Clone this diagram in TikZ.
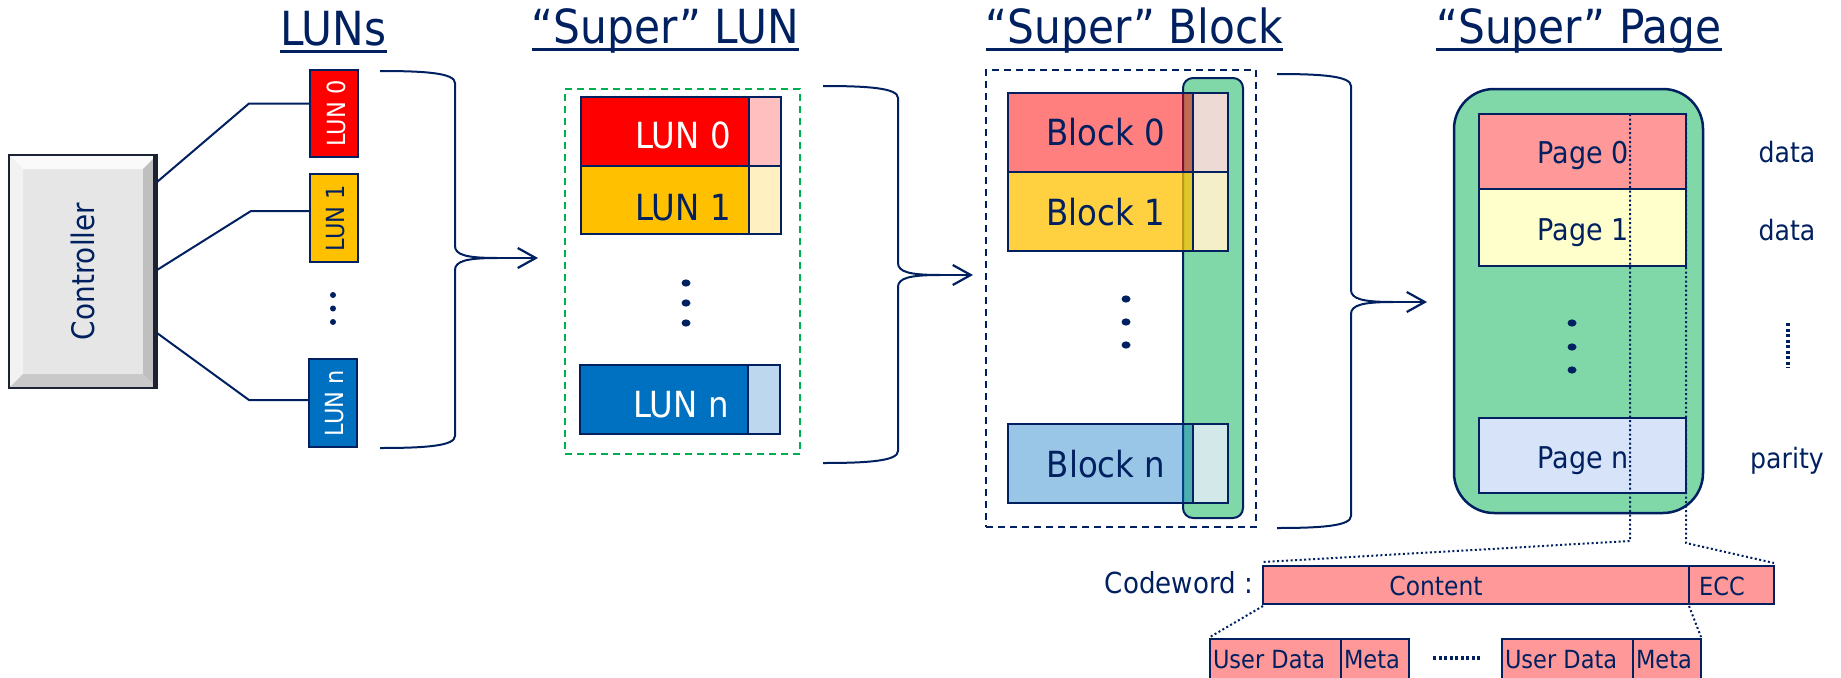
\documentclass[tikz,border=0pt]{standalone}
\usepackage{fontspec}
\setmainfont{DejaVu Sans}[FakeStretch=0.9]
\usetikzlibrary{arrows.meta,calc}
\definecolor{navy}{HTML}{002060}
\definecolor{lunred}{HTML}{FF0000}
\definecolor{lunyel}{HTML}{FFC000}
\definecolor{lunblu}{HTML}{0070C0}
\definecolor{lightred}{HTML}{FFBFBF}
\definecolor{lightyel}{HTML}{FFF0C2}
\definecolor{lightblu}{HTML}{BDD7EE}
\definecolor{dgreen}{HTML}{00B050}
\definecolor{gfill}{HTML}{80D8A8}
\definecolor{brr}{HTML}{EEDAD4}
\definecolor{byr}{HTML}{F5EFC9}
\definecolor{bbr}{HTML}{D3E9E9}
\definecolor{pgred}{HTML}{FF9999}
\definecolor{pgyel}{HTML}{FFFFCC}
\definecolor{pgblu}{HTML}{D6E3F8}
\definecolor{ctrlgray}{HTML}{E6E6E6}
\definecolor{ctrledge}{HTML}{1A2233}
\newcommand\mybrace[6]{%
  \draw[brc] (#1,#3) .. controls (#2-30,#3) and (#2,#3+2) .. (#2,#3+12)
    -- (#2,#4-12) .. controls (#2,#4-3) and (#2+12,#4) .. (#2+42,#4)
    .. controls (#2+12,#4) and (#2,#4+3) .. (#2,#4+12)
    -- (#2,#5-12) .. controls (#2,#5-2) and (#2-30,#5) .. (#1,#5);
  \coordinate (#6) at (#2+42,#4);}
\begin{document}
\begin{tikzpicture}[x=1pt,y=-1pt,
  box/.style={draw=navy, line width=2.5pt, inner sep=0pt, outer sep=0pt, anchor=north west},
  lbl/.style={text=navy, inner sep=0pt, outer sep=0pt},
  ttl/.style={lbl, font=\fontsize{47}{50}\selectfont, anchor=base},
  uline/.style={draw=navy, line width=3pt},
  brc/.style={draw=navy, line width=2pt},
  conn/.style={draw=navy, line width=2pt},
  arr/.style={draw=navy, line width=2.2pt, -{Straight Barb[length=18pt,width=20pt,line width=2.2pt]}},
  dotln/.style={draw=navy, line width=2pt, dash pattern=on 2pt off 2.5pt},
  thickdots/.style={draw=navy, line width=3.5pt, dash pattern=on 3pt off 2.5pt},
  dashgrp/.style={inner sep=0pt, outer sep=0pt, anchor=north west, line width=2pt, dash pattern=on 7pt off 5pt},
  f36/.style={font=\fontsize{36}{40}\selectfont},
  f30/.style={font=\fontsize{30}{34}\selectfont},
  f25/.style={font=\fontsize{25}{28}\selectfont}
]
\useasboundingbox (0,0) rectangle (1841,677);
\clip (0,0) rectangle (1841,677);

% ---------- titles ----------
\node[ttl] (tluns) at (333.5,46) {LUNs};
\node[ttl] (tslun) at (665.5,44) {“Super” LUN};
\node[ttl] (tsblk) at (1134.5,44) {“Super” Block};
\node[ttl] (tspag) at (1579,44) {“Super” Page};
\foreach \t in {tluns,tslun,tsblk,tspag}
  \draw[uline] ([yshift=-6pt]\t.base west) -- ([yshift=-6pt]\t.base east);

% ---------- controller ----------
\node[fill=ctrlgray, minimum width=148pt, minimum height=233pt, anchor=north west, inner sep=0pt, outer sep=0pt] (ctrl) at (9,155) {};
\fill[gray!4] (ctrl.north west) -- (ctrl.north east) -- ([shift={(-14pt,-14pt)}]ctrl.north east) -- ([shift={(14pt,-14pt)}]ctrl.north west) -- cycle;
\fill[gray!10] (ctrl.north west) -- ([shift={(14pt,-14pt)}]ctrl.north west) -- ([shift={(14pt,14pt)}]ctrl.south west) -- (ctrl.south west) -- cycle;
\fill[gray!50] (ctrl.north east) -- (ctrl.south east) -- ([shift={(-14pt,14pt)}]ctrl.south east) -- ([shift={(-14pt,-14pt)}]ctrl.north east) -- cycle;
\fill[gray!42] (ctrl.south west) -- (ctrl.south east) -- ([shift={(-14pt,14pt)}]ctrl.south east) -- ([shift={(14pt,14pt)}]ctrl.south west) -- cycle;
\draw[ctrledge, line width=2.5pt] (ctrl.north west) rectangle (ctrl.south east);
\draw[ctrledge, line width=5pt] ([xshift=-1.5pt]ctrl.north east) -- ([xshift=-1.5pt]ctrl.south east);
\node[lbl, rotate=90, font=\fontsize{31}{34}\selectfont] (ctrlt) at (ctrl.center) {Controller};

% ---------- LUNs ----------
\node[box, fill=lunred, minimum width=48pt, minimum height=87pt] (lun0) at (310,70) {};
\node[lbl, text=white, rotate=90, f25] (lun0t) at ([xshift=2pt]lun0.center) {LUN 0};
\node[box, fill=lunyel, minimum width=48pt, minimum height=88pt] (lun1) at (310,174) {};
\node[lbl, rotate=90, f25] (lun1t) at ([xshift=2pt]lun1.center) {LUN 1};
\node[box, fill=lunblu, minimum width=48pt, minimum height=88pt] (lunn) at (309,359) {};
\node[lbl, text=white, rotate=90, f25] (lunnt) at ([xshift=2pt]lunn.center) {LUN n};
\foreach \yy in {295,308.5,322} \fill[navy] (333,\yy) circle [radius=3];

\draw[conn] ([yshift=89.5pt]ctrl.east) -- (249,103.5) -- ([yshift=10pt]lun0.west);
\draw[conn] ([yshift=1.5pt]ctrl.east) -- (251,211) -- ([yshift=7pt]lun1.west);
\draw[conn] ([yshift=-61.5pt]ctrl.east) -- (249,400) -- ([yshift=3pt]lunn.west);

% ---------- Super LUN ----------
\node[dashgrp, draw=dgreen, minimum width=235pt, minimum height=365pt] (slun) at (565,89) {};
\node[box, fill=lunred, minimum width=168pt, minimum height=69pt] (sl0) at (581,97) {};
\node[box, fill=lightred, minimum width=32pt, minimum height=69pt] (sl0r) at (749,97) {};
\node[box, fill=lunyel, minimum width=168pt, minimum height=68pt] (sl1) at (581,166) {};
\node[box, fill=lightyel, minimum width=32pt, minimum height=68pt] (sl1r) at (749,166) {};
\node[box, fill=lunblu, minimum width=168pt, minimum height=69pt] (sln) at (580,365) {};
\node[box, fill=lightblu, minimum width=32pt, minimum height=69pt] (slnr) at (748,365) {};
\node[lbl, text=white, anchor=base, f36] (sl0t) at (683,148) {LUN 0};
\node[lbl, anchor=base, f36] (sl1t) at (683,220) {LUN 1};
\node[lbl, text=white, anchor=base, f36] (slnt) at (681,417) {LUN n};
\foreach \yy in {283,303,323} \fill[navy] (686,\yy) ellipse [x radius=4.5, y radius=3.6];

% ---------- Super Block ----------
\node[dashgrp, draw=navy, minimum width=270pt, minimum height=457pt] (sblk) at (986,70) {};
\node[draw=navy, fill=gfill, line width=2pt, rounded corners=10pt, minimum width=60pt, minimum height=440pt, anchor=north west, inner sep=0pt, outer sep=0pt] (gcol) at (1183,78) {};
\node[box, fill=lunred, fill opacity=0.5, minimum width=185pt, minimum height=79pt] (b0) at (1008,93) {};
\node[box, fill=brr, minimum width=35pt, minimum height=79pt] (b0r) at (1193,93) {};
\node[box, fill=lunyel, fill opacity=0.75, minimum width=185pt, minimum height=79pt] (b1) at (1008,172) {};
\node[box, fill=byr, minimum width=35pt, minimum height=79pt] (b1r) at (1193,172) {};
\node[box, fill=lunblu, fill opacity=0.4, minimum width=185pt, minimum height=79pt] (bn) at (1008,424) {};
\node[box, fill=bbr, minimum width=35pt, minimum height=79pt] (bnr) at (1193,424) {};
\node[lbl, anchor=base, f36] (b0t) at (1106,145) {Block 0};
\node[lbl, anchor=base, f36] (b1t) at (1106,225) {Block 1};
\node[lbl, anchor=base, f36] (bnt) at (1106,477) {Block n};
\foreach \yy in {299,322,345} \fill[navy] (1126,\yy) ellipse [x radius=4.5, y radius=3.6];

% ---------- Super Page ----------
\node[draw=navy, fill=gfill, line width=2.5pt, rounded corners=40pt, minimum width=249pt, minimum height=424pt, anchor=north west, inner sep=0pt, outer sep=0pt] (spag) at (1454,89) {};
\node[box, fill=pgred, minimum width=207pt, minimum height=75pt] (p0) at (1479,114) {};
\node[box, fill=pgyel, minimum width=207pt, minimum height=77pt] (p1) at (1479,189) {};
\node[box, fill=pgblu, minimum width=207pt, minimum height=75pt] (pn) at (1479,418) {};
\node[lbl, anchor=base, f30] (p0t) at (1583,163) {Page 0};
\node[lbl, anchor=base, f30] (p1t) at (1583,240) {Page 1};
\node[lbl, anchor=base, f30] (pnt) at (1583,468) {Page n};
\foreach \yy in {323,347,370} \fill[navy] (1572,\yy) ellipse [x radius=4.5, y radius=3.6];
\node[lbl, anchor=base, font=\fontsize{28}{31}\selectfont] (d0) at (1787,162) {data};
\node[lbl, anchor=base, font=\fontsize{28}{31}\selectfont] (d1) at (1787,240) {data};
\node[lbl, anchor=base, font=\fontsize{28}{31}\selectfont] (dn) at (1787,468) {parity};
\draw[thickdots] (1788,323) -- (1788,368);

% ---------- braces and arrows ----------
\mybrace{380}{455}{71}{258}{448}{tip1}
\mybrace{823}{898}{86}{275}{463}{tip2}
\mybrace{1277}{1351}{74}{302}{528}{tip3}
\draw[arr] (tip1) -- ($(tip1 -| slun.west)+(-27,0)$);
\draw[arr] (tip2) -- ($(tip2 -| sblk.west)+(-13,0)$);
\draw[arr] (tip3) -- ($(tip3 -| spag.west)+(-27,0)$);

% ---------- codeword ----------
\node[box, fill=pgred, minimum width=426pt, minimum height=38pt] (cont) at (1263,566) {};
\node[box, fill=pgred, minimum width=85pt, minimum height=38pt] (ecc) at (1689,566) {};
\node[lbl, anchor=base, font=\fontsize{26}{29}\selectfont] (contt) at (1436,595) {Content};
\node[lbl, anchor=base, f25] (ecct) at (1722,595) {ECC};
\node[lbl, anchor=base east, font=\fontsize{29}{32}\selectfont] (cwt) at (1253,593) {Codeword :};

\node[box, fill=pgred, minimum width=131pt, minimum height=60pt] (ud1) at (1210,639) {};
\node[box, fill=pgred, minimum width=68pt, minimum height=60pt] (m1) at (1341,639) {};
\node[box, fill=pgred, minimum width=131pt, minimum height=60pt] (ud2) at (1502,639) {};
\node[box, fill=pgred, minimum width=68pt, minimum height=60pt] (m2) at (1633,639) {};
\node[lbl, anchor=base west, f25] (ud1t) at (1213,668) {User Data};
\node[lbl, anchor=base west, f25] (m1t) at (1344,668) {Meta};
\node[lbl, anchor=base west, f25] (ud2t) at (1505,668) {User Data};
\node[lbl, anchor=base west, f25] (m2t) at (1636,668) {Meta};
\draw[thickdots] (1433,658) -- (1481,658);

% ---------- dotted links ----------
\coordinate (c1) at (1630,541);
\coordinate (c2) at (1686,543);
\draw[dotln] (p0.north -| c1) -- (c1) -- ([yshift=4pt]cont.north west);
\draw[dotln] (p0.north east) -- (c2) -- ([yshift=3pt]ecc.north east);
\draw[dotln] ([yshift=-2pt]cont.south west) -- ([yshift=2pt]ud1.north west);
\draw[dotln] ([yshift=-2pt]ecc.south west) -- ([yshift=2pt]m2.north east);
\end{tikzpicture}
\end{document}
